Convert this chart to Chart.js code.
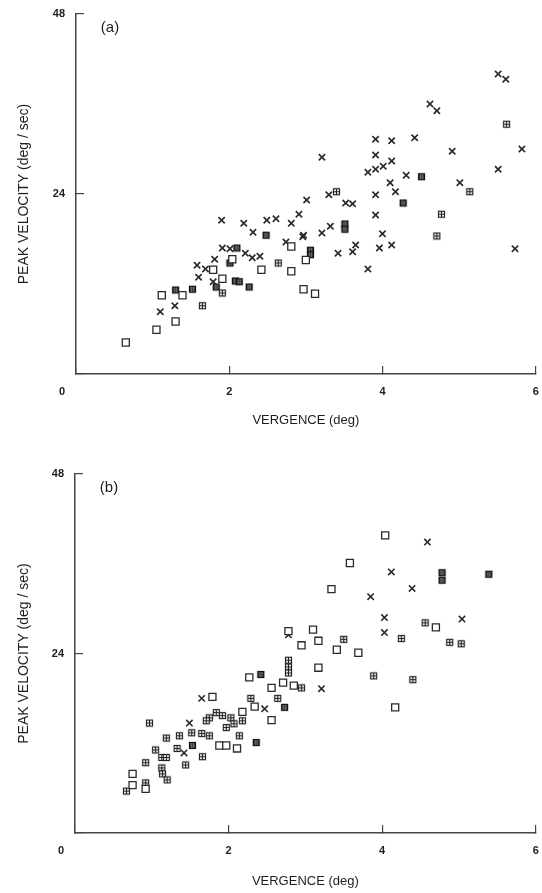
<!DOCTYPE html>
<html>
<head>
<meta charset="utf-8">
<script src="https://cdn.jsdelivr.net/npm/chart.js@4.4.1/dist/chart.umd.min.js"></script>
<style>
  body { margin: 0; background: #fff; }
  .panel { position: absolute; left: 0; }
</style>
</head>
<body>
<canvas id="chartA" class="panel" width="542" height="446" style="top:0"></canvas>
<canvas id="chartB" class="panel" width="542" height="447" style="top:446px"></canvas>

<script>
// (a) peak velocity vs vergence, [vergence deg, velocity deg/sec]
const aCross = [
  [5.51, 40.0], [5.61, 39.3], [4.62, 36.0], [4.71, 35.1], [3.91, 31.3], [4.12, 31.1],
  [4.42, 31.5], [4.91, 29.7], [5.82, 30.0], [3.21, 28.9], [3.91, 29.2], [3.81, 26.9],
  [3.91, 27.3], [4.01, 27.7], [4.12, 28.4], [5.51, 27.3], [4.31, 26.5], [4.10, 25.5],
  [5.01, 25.5], [3.30, 23.9], [3.01, 23.2], [4.17, 24.3], [3.91, 23.9], [3.52, 22.8],
  [3.61, 22.7], [3.91, 21.2], [2.91, 21.3], [3.21, 18.8], [3.32, 19.7], [4.00, 18.7],
  [2.96, 18.3], [3.65, 17.2], [3.61, 16.3], [3.42, 16.1], [3.96, 16.8], [4.12, 17.2],
  [5.73, 16.7], [3.81, 14.0], [1.90, 20.5], [2.19, 20.1], [2.49, 20.5], [2.61, 20.7],
  [2.81, 20.1], [2.31, 18.9], [2.74, 17.6], [2.97, 18.5], [1.91, 16.8], [2.01, 16.7],
  [2.21, 16.1], [2.30, 15.5], [2.40, 15.7], [1.81, 15.3], [1.58, 14.5], [1.69, 14.0],
  [1.60, 12.9], [1.79, 12.3], [1.29, 9.1], [1.10, 8.3]
];
const aOpen = [
  [0.65, 4.2], [1.05, 5.9], [1.30, 7.0], [1.12, 10.5], [1.39, 10.5], [1.79, 13.9],
  [1.91, 12.7], [2.04, 15.3], [2.42, 13.9], [2.81, 13.7], [2.97, 11.3], [3.12, 10.7],
  [2.81, 17.0], [3.00, 15.2]
];
const aHatch = [
  [1.65, 9.1], [1.91, 10.8], [2.64, 14.8], [3.40, 24.3], [5.14, 24.3], [4.77, 21.3],
  [4.71, 18.4], [5.62, 33.3]
];
const aSolid = [
  [1.30, 11.2], [1.52, 11.3], [1.83, 11.6], [2.01, 14.8], [2.08, 12.4], [2.13, 12.3],
  [2.26, 11.6], [2.10, 16.8], [2.48, 18.5], [3.51, 20.0], [3.51, 19.3], [4.27, 22.8],
  [4.51, 26.3], [3.06, 16.5], [3.06, 15.9]
];

// (b)
const bCross = [
  [4.59, 38.9], [4.12, 34.9], [4.39, 32.7], [3.85, 31.6], [4.03, 28.8], [4.03, 26.8],
  [5.04, 28.6], [3.21, 19.3], [2.78, 26.5], [2.47, 16.6], [1.65, 18.0], [1.49, 14.7],
  [1.42, 10.7]
];
const bOpen = [
  [4.04, 39.8], [3.58, 36.1], [3.34, 32.6], [4.70, 27.5], [3.10, 27.2], [2.95, 25.1],
  [3.17, 25.7], [3.41, 24.5], [3.69, 24.1], [3.17, 22.1], [4.17, 16.8], [2.78, 27.0],
  [2.27, 20.8], [2.56, 19.4], [2.71, 20.1], [2.85, 19.7], [2.34, 16.9], [2.56, 15.1],
  [1.79, 18.2], [2.18, 16.2], [1.88, 11.7], [1.97, 11.7], [2.11, 11.3], [0.75, 7.9],
  [0.92, 5.9], [0.75, 6.4]
];
const bHatch = [
  [4.56, 28.1], [3.50, 25.9], [4.25, 26.0], [4.88, 25.5], [5.03, 25.3], [2.95, 19.4],
  [3.89, 21.0], [4.40, 20.5], [2.78, 23.1], [2.78, 22.2], [2.78, 21.4], [2.29, 18.0],
  [2.64, 18.0], [2.18, 15.0], [2.03, 15.4], [1.92, 15.7], [1.84, 16.1], [1.75, 15.4],
  [1.71, 15.0], [1.97, 14.1], [2.07, 14.6], [2.14, 13.0], [1.52, 13.4], [1.65, 13.3],
  [1.75, 13.0], [1.36, 13.0], [1.33, 11.3], [1.44, 9.1], [1.66, 10.2], [0.97, 14.7],
  [1.19, 12.7], [1.05, 11.1], [1.13, 10.1], [1.19, 10.1], [1.13, 8.7], [1.14, 7.9],
  [1.20, 7.1], [0.92, 9.4], [0.92, 6.7], [0.67, 5.6]
];
const bSolid = [
  [4.78, 34.8], [4.78, 33.8], [5.39, 34.6], [2.42, 21.2], [2.73, 16.8], [2.36, 12.1],
  [1.53, 11.7]
];

const xTicks = [0, 2, 4, 6];
const yTicks = [0, 24, 48];

const ink = '#1e1e1e';
const tickFont = { family: 'Liberation Sans, Arial, sans-serif', size: 11, weight: 'bold' };
const titleFont = { family: 'Liberation Sans, Arial, sans-serif', size: 13 };

// small square glyphs used as point styles
function glyph(kind) {
  const c = document.createElement('canvas');
  c.width = 9; c.height = 9;
  const g = c.getContext('2d');
  g.strokeStyle = '#222';
  g.lineWidth = 1.2;
  if (kind === 'hatch') {
    g.fillStyle = '#fff';
    g.fillRect(1, 1, 7, 7);
    g.strokeRect(1.5, 1.5, 6, 6);
    g.beginPath();
    g.moveTo(4.5, 1.5); g.lineTo(4.5, 7.5);
    g.moveTo(1.5, 4.5); g.lineTo(7.5, 4.5);
    g.stroke();
  } else {
    g.fillStyle = '#3c3c3c';
    g.fillRect(1, 1, 7, 7);
    g.strokeStyle = '#111';
    g.strokeRect(1.5, 1.5, 6, 6);
    g.strokeStyle = '#6a6a6a';
    g.lineWidth = 1;
    g.beginPath();
    g.moveTo(3.5, 2); g.lineTo(3.5, 7);
    g.moveTo(5.5, 2); g.lineTo(5.5, 7);
    g.stroke();
  }
  return c;
}
const hatchGlyph = glyph('hatch');
const solidGlyph = glyph('solid');

const pts = arr => arr.map(p => ({ x: p[0], y: p[1] }));

// panel letter and the shared origin label under the corner
const panelText = {
  id: 'panelText',
  afterDraw(chart, args, opts) {
    const { ctx, chartArea, scales } = chart;
    ctx.save();
    ctx.fillStyle = ink;
    ctx.textAlign = 'center';
    ctx.textBaseline = 'middle';
    ctx.font = '15px "Liberation Sans", Arial, sans-serif';
    ctx.fillText(opts.letter, chartArea.left + 34, chartArea.top + 14);
    ctx.font = 'bold 11px "Liberation Sans", Arial, sans-serif';
    ctx.fillText('0', scales.x.getPixelForValue(0) - 14, scales.x.top + 18);
    ctx.restore();
  }
};

function makeChart(id, letter, cross, open, hatch, solid, yAxisWidth, xAxisHeight, pad) {
  return new Chart(document.getElementById(id), {
    type: 'scatter',
    data: {
      datasets: [
        { data: pts(open), pointStyle: 'rect', pointRadius: 5, borderWidth: 1.3,
          borderColor: '#2a2a2a', backgroundColor: '#fff' },
        { data: pts(hatch), pointStyle: hatchGlyph },
        { data: pts(solid), pointStyle: solidGlyph },
        { data: pts(cross), pointStyle: 'crossRot', pointRadius: 4.5, borderWidth: 1.6,
          borderColor: '#2a2a2a' }
      ]
    },
    options: {
      responsive: false,
      animation: false,
      events: [],
      layout: { padding: pad },
      plugins: {
        legend: { display: false },
        tooltip: { enabled: false },
        panelText: { letter: letter }
      },
      scales: {
        x: {
          type: 'linear',
          min: 0, max: 6,
          afterBuildTicks: s => { s.ticks = xTicks.map(v => ({ value: v })); },
          afterFit: s => { s.height = xAxisHeight; s.paddingLeft = 0; s.paddingRight = 0; },
          ticks: {
            callback: v => (v === 0 ? '' : v),
            color: ink, font: tickFont, padding: 19, maxRotation: 0
          },
          grid: { drawOnChartArea: false, tickLength: -8, color: '#444', lineWidth: 1.2 },
          border: { color: '#444', width: 1.5 },
          title: { display: true, text: 'VERGENCE (deg)', color: ink, font: titleFont,
                   padding: { top: 0, bottom: 4 } }
        },
        y: {
          type: 'linear',
          min: 0, max: 48,
          afterBuildTicks: s => { s.ticks = yTicks.map(v => ({ value: v })); },
          afterFit: s => { s.width = yAxisWidth; s.paddingTop = 0; s.paddingBottom = 0; },
          ticks: {
            callback: v => (v === 0 ? '' : v),
            color: ink, font: tickFont, padding: 19
          },
          grid: { drawOnChartArea: false, tickLength: -8, color: '#444', lineWidth: 1.2 },
          border: { color: '#444', width: 1.5 },
          title: { display: true, text: 'PEAK VELOCITY (deg / sec)', color: ink,
                   font: { family: titleFont.family, size: 14 },
                   padding: { top: 16, bottom: 0 } }
        }
      }
    },
    plugins: [panelText]
  });
}

makeChart('chartA', '(a)', aCross, aOpen, aHatch, aSolid, 76, 58,
  { left: 0, right: 4, top: 14, bottom: 14 });
makeChart('chartB', '(b)', bCross, bOpen, bHatch, bSolid, 75, 60,
  { left: 0, right: 4, top: 28, bottom: 0 });
</script>
</body>
</html>
